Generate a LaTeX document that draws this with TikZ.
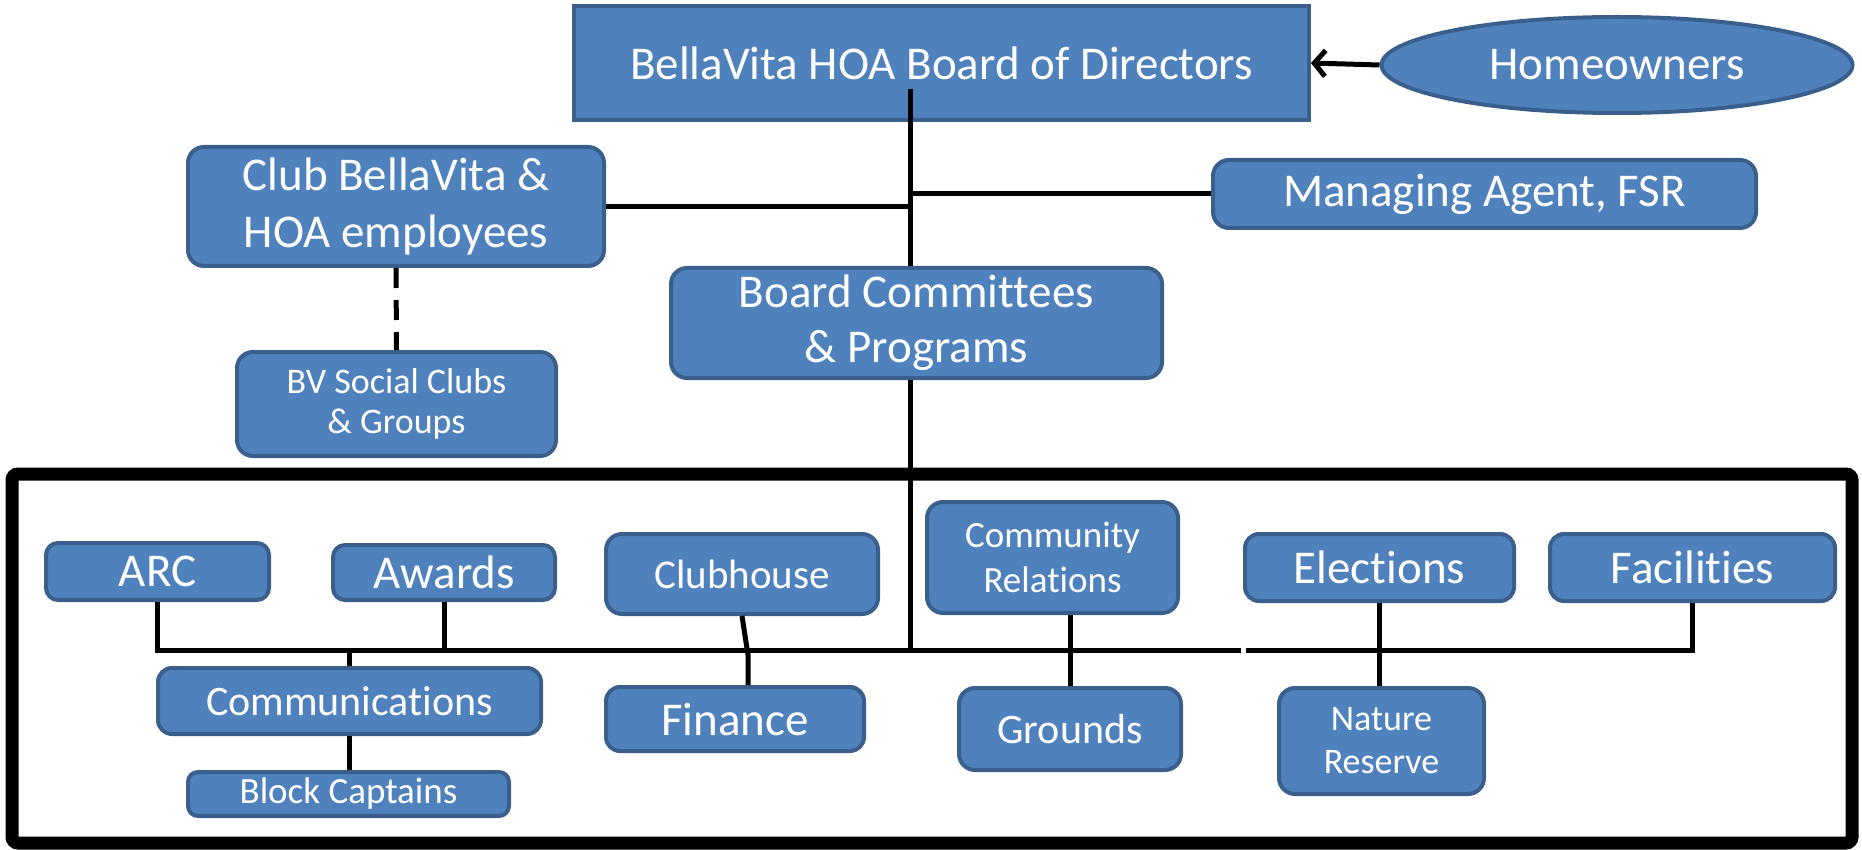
\documentclass[tikz,border=0pt]{standalone}
\usepackage{fontspec}
\setmainfont{Carlito}[Ligatures=NoCommon]
\usetikzlibrary{arrows.meta,shapes.geometric}
\definecolor{boxfill}{HTML}{4F81BD}
\definecolor{boxline}{HTML}{3A5F8C}
\newcommand{\fsz}[2]{\fontsize{#1}{#2}\selectfont}
\begin{document}
\begin{tikzpicture}[x=1pt,y=-1pt,
  box/.style={draw=boxline, line width=4pt, fill=boxfill, text=white,
    rounded corners=16pt, inner sep=0pt, align=center},
  conn/.style={draw=black, line width=5pt, line join=miter},
  bigf/.style={font=\fsz{47}{57}},
  midf/.style={font=\fsz{42}{50}},
  smlf/.style={font=\fsz{37}{44}}]
\useasboundingbox (0,0) rectangle (1862,850);
% frame
\draw[line width=13pt, rounded corners=6pt] (12,474) rectangle (1852,843);
% top part
\node[box, bigf, rounded corners=0pt, minimum width=735pt, minimum height=114pt] (board) at (941.5,63) {BellaVita HOA Board of Directors};
\node[ellipse, draw=boxline, line width=4pt, fill=boxfill, text=white, inner sep=0pt,
  minimum width=471pt, minimum height=96pt, bigf] (home) at (1617,65) {Homeowners};
\node[box, bigf, minimum width=416pt, minimum height=119pt] (club) at (396,206.5) {Club BellaVita \&\\HOA employees};
\node[box, bigf, minimum width=543pt, minimum height=68pt] (managing) at (1484.5,194) {Managing Agent, FSR};
\node[box, bigf, font=\fsz{47}{55}, minimum width=491pt, minimum height=110pt] (committees) at (916.5,323) {Board Committees\\\& Programs};
\node[box, font=\fsz{36}{40}, minimum width=319pt, minimum height=104pt] (bvsocial) at (396.5,404) {BV Social Clubs\\\& Groups};
% committees
\node[box, bigf, minimum width=223pt, minimum height=57pt, rounded corners=12pt] (arc) at (157.5,571.5) {ARC};
\node[box, bigf, minimum width=222pt, minimum height=55pt, rounded corners=12pt] (awards) at (444,572.5) {Awards};
\node[box, font=\fsz{41}{48}, minimum width=272pt, minimum height=80pt] (clubhouse) at (742,574) {Clubhouse};
\node[box, font=\fsz{37}{45}, minimum width=251pt, minimum height=111pt] (community) at (1052.5,557.5) {Community\\Relations};
\node[box, bigf, minimum width=269pt, minimum height=67pt, rounded corners=14pt] (elections) at (1379.5,567.5) {Elections};
\node[box, bigf, minimum width=285pt, minimum height=67pt, rounded corners=14pt] (facilities) at (1692.5,567.5) {Facilities};
\node[box, midf, minimum width=383pt, minimum height=66pt, rounded corners=14pt] (communications) at (349.5,701) {Communications};
\node[box, smlf, minimum width=321pt, minimum height=44pt, rounded corners=10pt] (block) at (348.5,794) {Block Captains};
\node[box, bigf, minimum width=258pt, minimum height=64pt, rounded corners=14pt] (finance) at (735,719) {Finance};
\node[box, midf, minimum width=222pt, minimum height=82pt] (grounds) at (1070,729) {Grounds};
\node[box, font=\fsz{36}{43}, minimum width=205pt, minimum height=106pt] (nature) at (1381.5,741) {Nature\\Reserve};
% coordinates
\coordinate (trunk) at (910,89);
\coordinate (bus) at (910,650);
\coordinate (gapL) at (1241,650);
\coordinate (gapR) at (1246,650);
\coordinate (fk) at (748,655);
% connectors
\draw[line width=5pt, -{Straight Barb[length=11pt,width=26pt,line width=5pt]}] (home.west) -- (board.east);
\draw[conn] (trunk) -- (trunk |- committees.north);
\draw[conn] (trunk |- committees.south) -- (bus);
\draw[conn] (club.east) -- (club.east -| trunk);
\draw[conn] (managing.west) -- (managing.west -| trunk);
\draw[conn, dash pattern=on 20pt off 12pt] (club.south) -- (bvsocial.north);
\draw[conn] (arc.south) -- (arc.south |- bus) -- (gapL);
\draw[conn] (gapR) -- (facilities.south |- bus) -- (facilities.south);
\draw[conn] (awards.south) -- (awards.south |- bus);
\draw[conn] (communications.north |- bus) -- (communications.north);
\draw[conn] (communications.south) -- (communications.south |- block.north);
\draw[conn] (clubhouse.south) -- (fk) -- (fk |- finance.north);
\draw[conn] (grounds.north |- community.south) -- (grounds.north);
\draw[conn] (elections.south) -- (elections.south |- nature.north);
\end{tikzpicture}
\end{document}
